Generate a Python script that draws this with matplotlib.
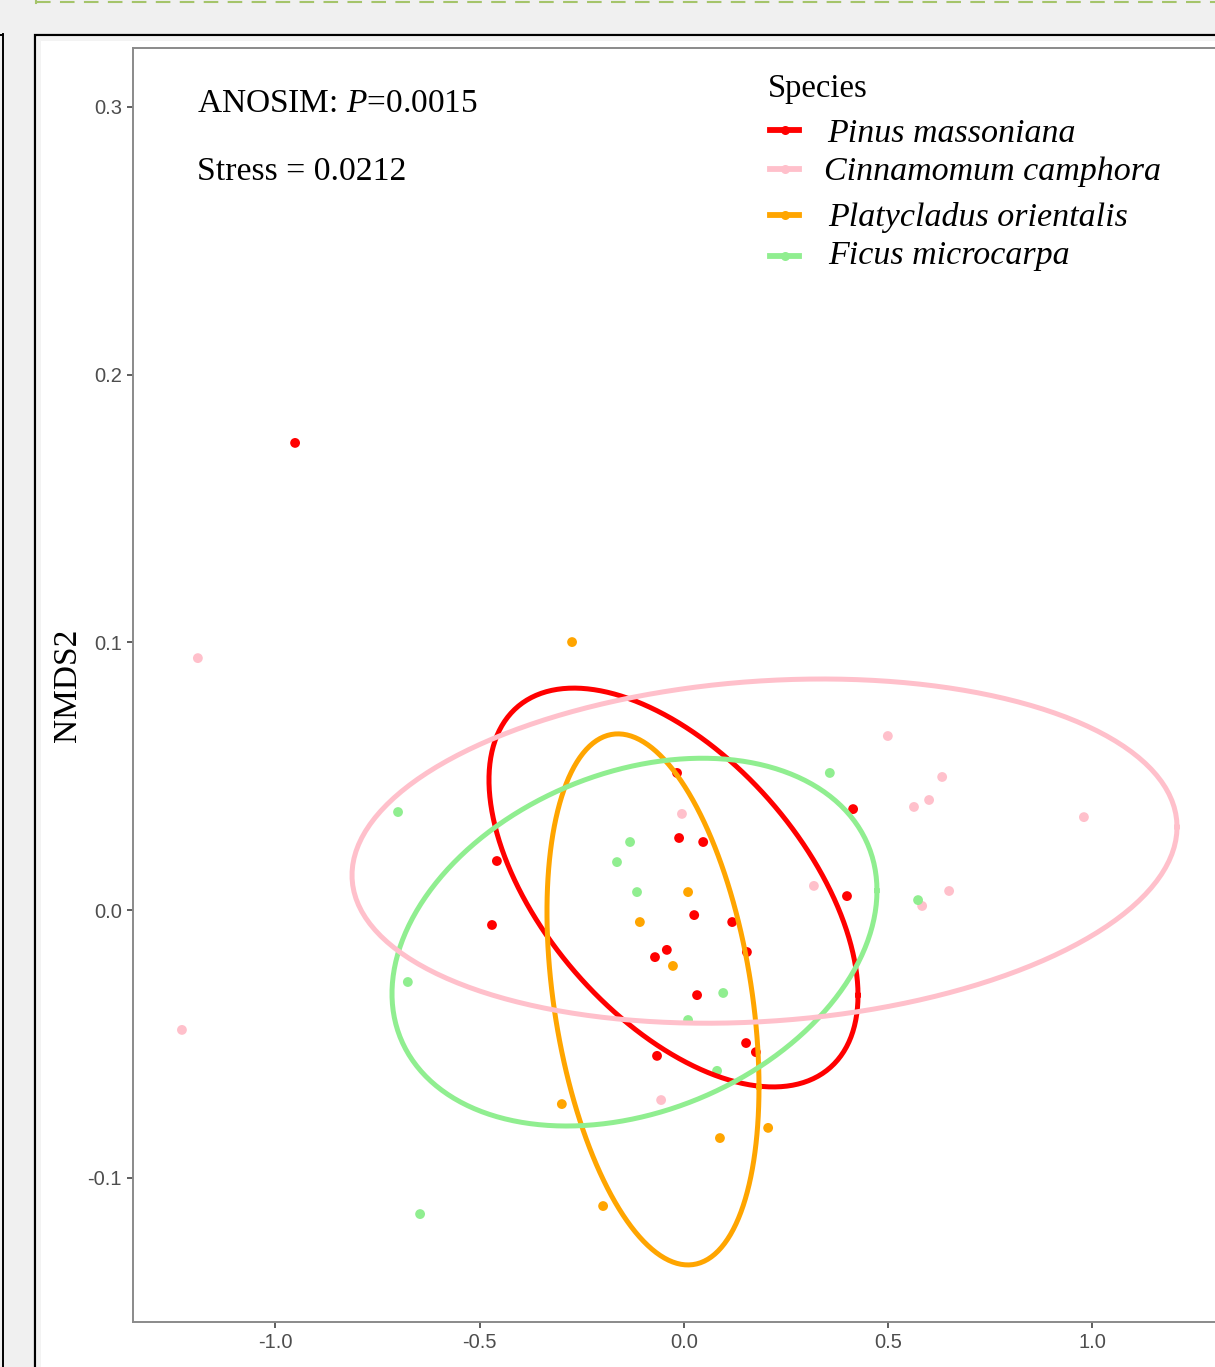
import numpy as np
import matplotlib
matplotlib.use("Agg")
import matplotlib.pyplot as plt
from matplotlib.lines import Line2D
from matplotlib.patches import Rectangle

plt.rcParams.update({
    "axes.unicode_minus": False,
    "mathtext.fontset": "custom",
    "mathtext.rm": "Liberation Serif",
    "mathtext.it": "Liberation Serif:italic",
})

# ── NMDS scores per host species ──
species = ["Pinus massoniana", "Cinnamomum camphora",
           "Platycladus orientalis", "Ficus microcarpa"]
colors = ["#FF0000", "#FFC0CB", "#FFA500", "#90EE90"]

pinus_x = [-0.952, -0.458, -0.470, -0.017, -0.012, 0.047, 0.025, 0.118, -0.042,
           -0.071, 0.154, 0.032, -0.066, 0.152, 0.176, 0.414, 0.399]
pinus_y = [0.1745, 0.0183, -0.0056, 0.0512, 0.0269, 0.0254, -0.0019, -0.0045, -0.0149,
           -0.0176, -0.0157, -0.0318, -0.0545, -0.0497, -0.0531, 0.0377, 0.0052]

cinna_x = [-1.190, -1.229, -0.005, 0.499, 0.563, 0.600, 0.632, 0.979, 0.318,
           0.583, 0.649, -0.056]
cinna_y = [0.0941, -0.0448, 0.0359, 0.0650, 0.0385, 0.0411, 0.0497, 0.0347, 0.0090,
           0.0015, 0.0071, -0.0710]

platy_x = [-0.274, 0.010, -0.108, -0.027, -0.299, -0.198, 0.088, 0.206]
platy_y = [0.1001, 0.0067, -0.0045, -0.0209, -0.0725, -0.1106, -0.0852, -0.0814]

ficus_x = [-0.700, -0.676, -0.646, -0.132, -0.164, -0.115, 0.096, 0.010, 0.081,
           0.357, 0.573]
ficus_y = [0.0366, -0.0269, -0.1136, 0.0254, 0.0179, 0.0067, -0.0310, -0.0411, -0.0601,
           0.0512, 0.0037]

# 95% confidence ellipses: centre, half-range in x / y, correlation
ell_cx = [-0.0257, 0.1971, -0.0759, -0.1212]
ell_cy = [0.0084, 0.0220, -0.0334, -0.0120]
ell_sx = [0.4517, 1.0098, 0.2595, 0.5936]
ell_sy = [0.0745, 0.0643, 0.0992, 0.0687]
ell_rho = [-0.54, 0.14, -0.33, 0.28]
ell_order = [0, 2, 3, 1]  # drawing order of the ellipse paths

xs = [pinus_x, cinna_x, platy_x, ficus_x]
ys = [pinus_y, cinna_y, platy_y, ficus_y]

x_ticks = [-1.0, -0.5, 0.0, 0.5, 1.0]
y_ticks = [-0.1, 0.0, 0.1, 0.2, 0.3]

W, H = 1215, 1367
fig = plt.figure(figsize=(W / 100, H / 100), dpi=100)
fig.patch.set_facecolor("#F0F0F0")


def fx(px):
    return px / W


def fy(py):
    return 1 - py / H


# ── surrounding frame ──
fig.add_artist(Rectangle((fx(35), fy(1400)), fx(1300), fy(35) - fy(1400),
                         transform=fig.transFigure, facecolor="white",
                         edgecolor="black", linewidth=1.6, zorder=0))
fig.add_artist(Rectangle((fx(37), fy(1400)), fx(4), fy(37) - fy(1400),
                         transform=fig.transFigure, facecolor="#F3F3F3",
                         edgecolor="none", zorder=0.5))
fig.add_artist(Rectangle((fx(37), fy(41)), fx(1300), fy(37) - fy(41),
                         transform=fig.transFigure, facecolor="#F3F3F3",
                         edgecolor="none", zorder=0.5))
fig.add_artist(Line2D([fx(2.5), fx(2.5)], [fy(34), fy(1400)], transform=fig.transFigure,
                      color="black", linewidth=1.4))
fig.add_artist(Line2D([fx(0), fx(2.5)], [fy(34.5), fy(34.5)], transform=fig.transFigure,
                      color="black", linewidth=1.4))
fig.add_artist(Line2D([fx(36), fx(1215)], [fy(2), fy(2)], transform=fig.transFigure,
                      color="#A5C46A", linewidth=1.5, linestyle=(0, (7, 4.5))))
fig.add_artist(Line2D([fx(36), fx(36)], [fy(0), fy(3)], transform=fig.transFigure,
                      color="#A5C46A", linewidth=1.5))

# ── plot panel ──
left, right, top, bottom = 133, 1232, 48, 1322
ax = fig.add_axes([fx(left), fy(bottom), fx(right - left), (bottom - top) / H])
ax.set_facecolor("white")
ax.set_xlim(-1.3488, (right - 684) / 408.5)
ax.set_ylim(-0.15392, 0.32204)

for i in range(4):
    ax.scatter(xs[i], ys[i], s=50, color=colors[i], edgecolors="none", zorder=2)

t = np.linspace(0, 2 * np.pi, 160)
for k, i in enumerate(ell_order):
    ex = ell_cx[i] + ell_sx[i] * np.cos(t)
    ey = ell_cy[i] + ell_sy[i] * (ell_rho[i] * np.cos(t)
                                  + np.sqrt(1 - ell_rho[i] ** 2) * np.sin(t))
    ax.plot(ex, ey, color=colors[i], linewidth=3.6, solid_joinstyle="round",
            zorder=3 + k)

ax.set_xticks(x_ticks)
ax.set_yticks(y_ticks)
ax.set_xticklabels([f"{v:.1f}" for v in x_ticks])
ax.set_yticklabels([f"{v:.1f}" for v in y_ticks])
ax.tick_params(axis="both", length=4.5, width=1.1, color="#333333",
               labelcolor="#4D4D4D", labelsize=14.5, pad=3.5)
for lab in ax.get_xticklabels() + ax.get_yticklabels():
    lab.set_family("Liberation Sans")
for sp in ax.spines.values():
    sp.set_color("#8A8A8A")
    sp.set_linewidth(1.4)

ax.set_ylabel("NMDS2", fontsize=24, family="Liberation Serif", labelpad=3)

# ── annotations ──
serif = "Liberation Serif"
fig.text(fx(197), fy(112), r"ANOSIM: $P$=0.0015", fontsize=24, family=serif,
         va="baseline", ha="left")
fig.text(fx(197), fy(180), "Stress = 0.0212", fontsize=24.3, family=serif,
         va="baseline", ha="left")

# ── legend ──
fig.text(fx(768), fy(97), "Species", fontsize=23.5, family=serif,
         va="baseline", ha="left")
key_y = [130, 169, 215, 256]
label_base = [142, 180, 226, 264]
label_x = [827, 824, 828, 828]
for i, name in enumerate(species):
    fig.add_artist(Line2D([fx(770), fx(799)], [fy(key_y[i]), fy(key_y[i])],
                          transform=fig.transFigure, color=colors[i], linewidth=4.2))
    fig.add_artist(Line2D([fx(784.5)], [fy(key_y[i])], transform=fig.transFigure,
                          color=colors[i], marker="o", markersize=6.5,
                          markeredgewidth=0, linestyle="none"))
    fig.text(fx(label_x[i]), fy(label_base[i]), name, fontsize=24.5, family=serif,
             style="italic", va="baseline", ha="left")

fig.savefig("out.png", dpi=100, facecolor=fig.get_facecolor())
